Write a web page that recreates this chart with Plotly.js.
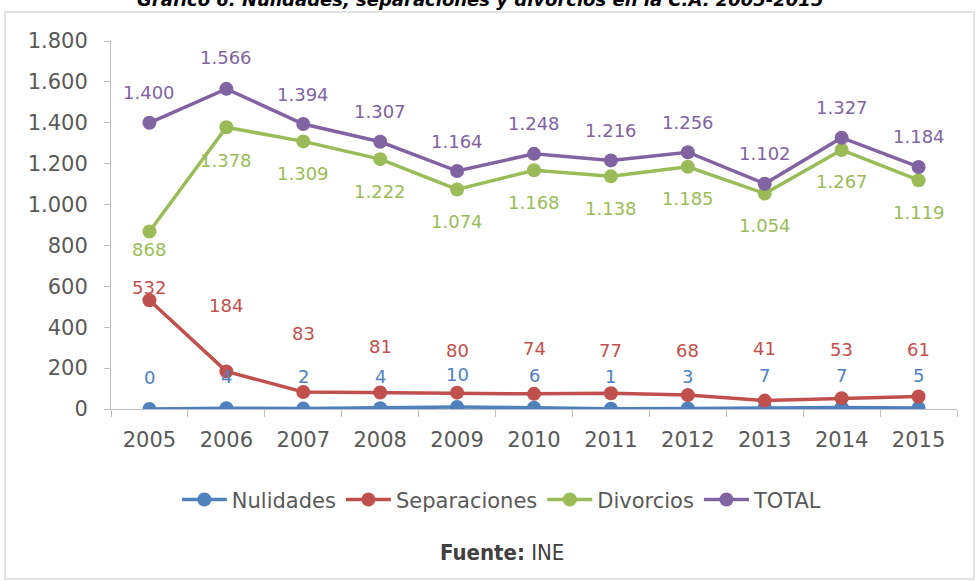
<!DOCTYPE html>
<html>
<head>
<meta charset="utf-8">
<script src="https://cdn.plot.ly/plotly-3.0.1.min.js"></script>
<style>
  html, body { margin: 0; padding: 0; background: #fff; }
  #chart { width: 976px; height: 581px; }
</style>
</head>
<body>
<div id="chart"></div>
<script>
// ---- data ----
var years = ["2005","2006","2007","2008","2009","2010","2011","2012","2013","2014","2015"];
var nulidades    = [0, 4, 2, 4, 10, 6, 1, 3, 7, 7, 5];
var separaciones = [532, 184, 83, 81, 80, 74, 77, 68, 41, 53, 61];
var divorcios    = [868, 1378, 1309, 1222, 1074, 1168, 1138, 1185, 1054, 1267, 1119];
var total        = [1400, 1566, 1394, 1307, 1164, 1248, 1216, 1256, 1102, 1327, 1184];
var yTickVals  = [0, 200, 400, 600, 800, 1000, 1200, 1400, 1600, 1800];
var yTickTexts = ["0", "200", "400", "600", "800", "1.000", "1.200", "1.400", "1.600", "1.800"];

// ---- styles ----
var cBlue = "#4F81BD", cRed = "#C0504D", cGreen = "#9BBB59", cPurple = "#8064A2";
var numFont = "DejaVu Sans, Noto Sans, sans-serif";
// label pixel offsets (style only)
var shiftNul = [32, 32, 32, 32, 32, 32, 32, 32, 32, 32, 32];
var shiftSep = [13, 66, 59, 46, 42, 45, 43, 45, 52, 49, 47];
var shiftDiv = [-18, -33, -32, -32, -32, -32, -32, -32, -32, -32, -32];
var shiftTot = [30, 31, 30, 30, 30, 30, 30, 30, 30, 30, 30];

function fmt(v) {
  var s = String(v);
  if (v >= 1000) s = s.slice(0, s.length - 3) + "." + s.slice(s.length - 3);
  return s;
}

function series(name, vals, color) {
  return {
    type: "scatter", mode: "lines+markers", name: name,
    x: years, y: vals,
    line: { color: color, width: 3.5 },
    marker: { color: color, size: 14, symbol: "circle" },
    hoverinfo: "skip"
  };
}

var traces = [
  series("Nulidades", nulidades, cBlue),
  series("Separaciones", separaciones, cRed),
  series("Divorcios", divorcios, cGreen),
  series("TOTAL", total, cPurple)
];

var annotations = [];
function addLabels(vals, shifts, color) {
  for (var i = 0; i < years.length; i++) {
    annotations.push({
      x: i, y: vals[i], xref: "x", yref: "y",
      text: fmt(vals[i]), showarrow: false,
      yanchor: "middle", xanchor: "center", yshift: shifts[i],
      font: { family: numFont, size: 18, color: color }
    });
  }
}
addLabels(total, shiftTot, cPurple);
addLabels(divorcios, shiftDiv, cGreen);
addLabels(separaciones, shiftSep, cRed);
addLabels(nulidades, shiftNul, cBlue);

// title (cut off at the top of the picture, as in the source)
annotations.push({
  xref: "paper", yref: "paper", x: 0.436, y: 1.113, xanchor: "center", yanchor: "middle",
  text: "<b><i>Gráfico 6. Nulidades, separaciones y divorcios en la C.A. 2005-2015</i></b>",
  showarrow: false, font: { family: "DejaVu Sans, sans-serif", size: 18, color: "#000" }
});
// source
annotations.push({
  xref: "paper", yref: "paper", x: 0.462, y: -0.39, xanchor: "center", yanchor: "middle",
  text: "<b>Fuente:</b> INE", showarrow: false,
  font: { family: "DejaVu Sans Condensed, DejaVu Sans, sans-serif", size: 22, color: "#404040" }
});

var layout = {
  width: 976, height: 581,
  margin: { l: 111, r: 19, t: 41, b: 172, pad: 0 },
  paper_bgcolor: "#ffffff", plot_bgcolor: "#ffffff",
  showlegend: true,
  legend: {
    orientation: "h", x: 0.462, xanchor: "center", y: -0.247, yanchor: "middle",
    font: { family: "DejaVu Sans, sans-serif", size: 21, color: "#595959" },
    itemwidth: 45, traceorder: "normal"
  },
  xaxis: {
    type: "category", range: [-0.5, 10.5], autorange: false,
    showgrid: false, zeroline: false,
    showline: true, linecolor: "#BFBFBF", linewidth: 1,
    ticks: "outside", tickson: "boundaries", ticklen: 7, tickcolor: "#BFBFBF",
    tickfont: { family: numFont, size: 21, color: "#595959" },
    tickangle: 0,
    ticklabelstandoff: 12,
    fixedrange: true
  },
  yaxis: {
    range: [0, 1800], autorange: false, showgrid: false, zeroline: false,
    showline: true, linecolor: "#BFBFBF", linewidth: 1,
    ticks: "outside", ticklen: 6, tickcolor: "#BFBFBF",
    tickvals: yTickVals, ticktext: yTickTexts,
    tickfont: { family: numFont, size: 21, color: "#595959" },
    ticklabelstandoff: 12,
    fixedrange: true
  },
  shapes: [{
    type: "rect", xref: "paper", yref: "paper",
    x0: -0.1253, x1: 1.0201, y0: -0.462, y1: 1.0788,
    line: { color: "#D9D9D9", width: 1.5 }, fillcolor: "rgba(0,0,0,0)", layer: "below"
  }],
  annotations: annotations
};

Plotly.newPlot("chart", traces, layout, { staticPlot: true, displayModeBar: false });
</script>
</body>
</html>
